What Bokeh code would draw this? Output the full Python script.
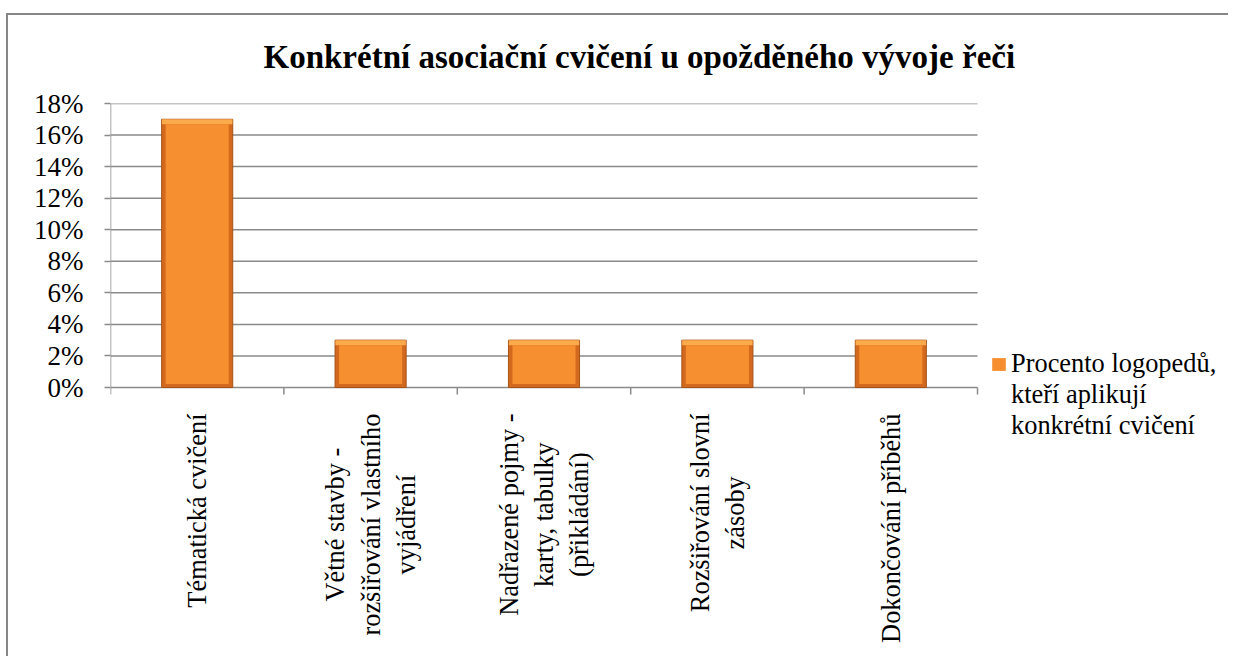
import math
from bokeh.plotting import figure
from bokeh.models import (Range1d, FixedTicker, PrintfTickFormatter, Legend, LegendItem,
                          ColumnDataSource)
from bokeh.core.properties import value
from bokeh.embed import file_html
from bokeh.resources import INLINE

categories = [
    "Tématická cvičení",
    "Větné stavby -\nrozšiřování vlastního\nvyjádření",
    "Nadřazené pojmy -\nkarty, tabulky\n(přikládání)",
    "Rozšiřování slovní\nzásoby",
    "Dokončování příběhů",
]
values = [17, 3, 3, 3, 3]
y_ticks = [0, 2, 4, 6, 8, 10, 12, 14, 16, 18]
series_lines = ["Procento logopedů,", "kteří aplikují", "konkrétní cvičení"]
title_text = "Konkrétní asociační cvičení u opožděného vývoje řeči"

FONT = "Liberation Serif"
GRID = "#8a8a8a"

# layout geometry (pixels)
W, H = 1222, 656
LEFT, TOP = 104, 103
CAT_PX = 173.4          # width of one category slot
PLOT_H_PX = 284         # height of 0..18 value span
frame_w = W - LEFT
frame_h = H - TOP
ymax = y_ticks[-1]
px_per_unit = PLOT_H_PX / ymax
x_end = frame_w / CAT_PX
y_start = ymax - frame_h / px_per_unit
tick_len = 7 / px_per_unit
BAR_W = 0.41
bevel_y = 5 / px_per_unit
bevel_x = 4 / CAT_PX

n = len(categories)
pos = [i + 0.5 for i in range(n)]
bounds = list(range(n + 1))
src = ColumnDataSource(dict(x=pos, top=values, label=categories,
                            face_top=[v - bevel_y for v in values]))

p = figure(width=W, height=H, output_backend="svg", toolbar_location=None,
           x_range=Range1d(0, x_end), y_range=Range1d(y_start, ymax),
           x_axis_location=None,
           min_border_left=LEFT, min_border_right=0, min_border_top=TOP,
           min_border_bottom=0)
p.border_fill_alpha = 0
p.background_fill_color = "white"
p.styles = {"margin-left": "6px",
            "box-shadow": "inset 0 13px 0 0 white, inset 0 15px 0 0 #878787, "
                          "inset 2px 0 0 0 #878787"}

p.title.text = title_text
p.title.text_font = FONT
p.title.text_font_size = "33px"
p.title.text_font_style = "bold"
p.title.text_color = "black"
p.title.align = "left"
p.title.offset = 153
p.title.standoff = 57
p.outline_line_color = None
p.xgrid.grid_line_color = None
p.ygrid.grid_line_color = None

# value gridlines (0 line doubles as the category axis)
p.segment(x0=[0] * len(y_ticks), x1=[n] * len(y_ticks), y0=y_ticks, y1=y_ticks,
          line_color=GRID, line_width=1.5)

# bars: dark bevelled edge, light top bevel, orange face
p.vbar(x="x", top="top", width=BAR_W, source=src, fill_color="#D2691E",
       line_color="#A65317", line_width=1)
p.vbar(x="x", top="top", bottom="face_top", width=BAR_W - 0.004, source=src,
       fill_color="#FBAA4C", line_color=None)
r = p.vbar(x="x", top="face_top", bottom=bevel_y * 0.7, width=BAR_W - 2 * bevel_x,
           source=src, fill_color="#F58F2F", line_color=None)

# value axis line and category boundary ticks
p.segment(x0=[0], x1=[0], y0=[0], y1=[ymax], line_color=GRID, line_width=1.5)
p.segment(x0=bounds, x1=bounds, y0=[0] * len(bounds), y1=[-tick_len] * len(bounds),
          line_color=GRID, line_width=1.5)

# category labels
p.text(x="x", y=0, text="label", source=src, angle=math.pi / 2, y_offset=26,
       text_align="center", anchor="center_right", text_baseline="middle",
       text_font=value(FONT), text_font_size="26.4px", text_color="black",
       text_line_height=1.18)

# value axis
p.yaxis.ticker = FixedTicker(ticks=y_ticks)
p.yaxis.formatter = PrintfTickFormatter(format="%d%%")
p.yaxis.major_label_text_font = FONT
p.yaxis.major_label_text_font_size = "27px"
p.yaxis.major_label_text_color = "black"
p.yaxis.axis_line_color = None
p.yaxis.major_tick_line_color = GRID
p.yaxis.major_tick_line_width = 1.5
p.yaxis.major_tick_out = 6
p.yaxis.major_tick_in = 0
p.yaxis.minor_tick_line_color = None
p.yaxis.major_label_standoff = 21

items = [LegendItem(label=series_lines[0], renderers=[r])]
items += [LegendItem(label=t, renderers=[]) for t in series_lines[1:]]
legend = Legend(items=items, location=(880, 215), label_text_font=FONT,
                label_text_font_size="26.4px", label_text_color="black",
                border_line_color=None, background_fill_alpha=0, padding=0, margin=0,
                spacing=-2, glyph_width=17, glyph_height=16, label_standoff=4,
                label_height=26)
p.add_layout(legend, "center")

open("out.html", "w").write(file_html(p, INLINE))
